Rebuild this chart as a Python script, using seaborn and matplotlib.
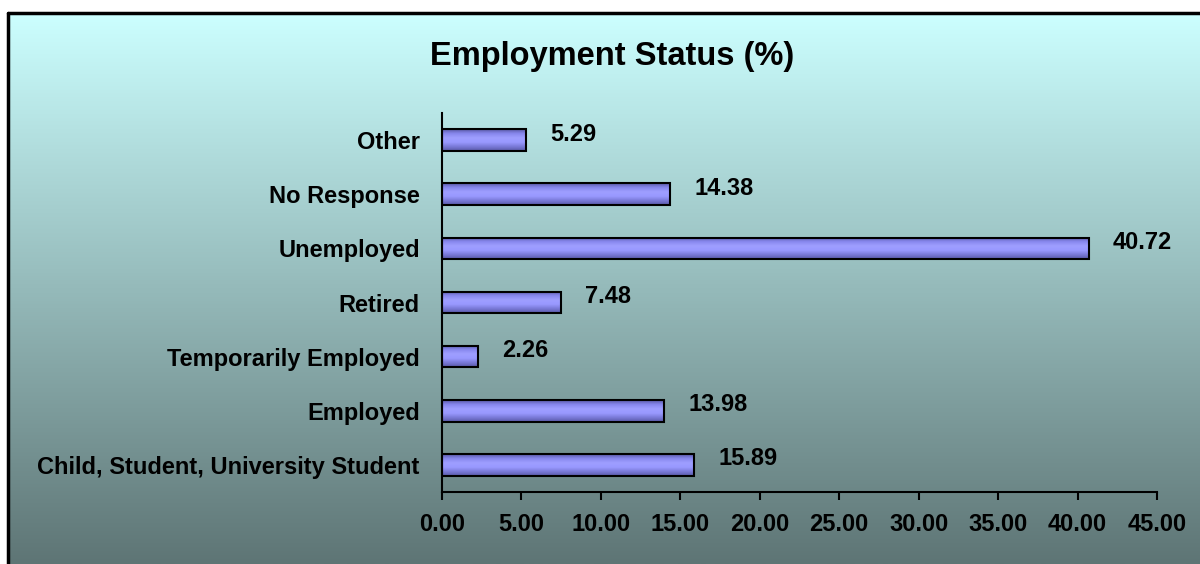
import matplotlib
matplotlib.use("Agg")
import matplotlib.pyplot as plt
from matplotlib.colors import LinearSegmentedColormap
from matplotlib.lines import Line2D
import numpy as np
import seaborn as sb

sb.set_theme(style="white")
plt.rcParams['font.family'] = ['Liberation Sans', 'DejaVu Sans']

# data
categories = ["Other", "No Response", "Unemployed", "Retired",
              "Temporarily Employed", "Employed",
              "Child, Student, University Student"]
values = [5.29, 14.38, 40.72, 7.48, 2.26, 13.98, 15.89]
x_ticks = np.arange(0, 50, 5)
title = "Employment Status (%)"

fig = plt.figure(figsize=(12, 5.64), dpi=100, facecolor="white")

# background panel with vertical gradient
bg = fig.add_axes([8 / 1200, 0, 1 - 8 / 1200, 1 - 13 / 564])
bg_cmap = LinearSegmentedColormap.from_list("bg", ["#5e7575", "#ccffff"])
bg.imshow(np.linspace(0, 1, 256).reshape(-1, 1)[::-1], aspect="auto",
          cmap=bg_cmap, extent=[0, 1, 0, 1])
bg.set_axis_off()
fig.add_artist(Line2D([8 / 1200, 8 / 1200], [0, 1 - 13 / 564], color="black", lw=2.5))
fig.add_artist(Line2D([8 / 1200, 1], [1 - 13 / 564, 1 - 13 / 564], color="black", lw=2.5))

ax = fig.add_axes([442 / 1200, 1 - 492 / 564, (1157 - 442) / 1200, (492 - 113) / 564])
ax.patch.set_alpha(0)

sb.barplot(x=values, y=categories, orient="h", width=0.4, color="#9999ff",
           edgecolor="black", linewidth=1.5, ax=ax)

# shaded fill for each bar, clipped to the bar outline
bar_cmap = LinearSegmentedColormap.from_list(
    "bar", ["#5a5aa8", "#8888ee", "#9e9eff", "#9999ff", "#7a7ad8", "#5a5aa8"])
grad = np.linspace(0, 1, 64).reshape(-1, 1)
for patch in list(ax.patches):
    bb = patch.get_bbox()
    im = ax.imshow(grad, extent=[bb.x0, bb.x1, bb.y1, bb.y0], aspect="auto",
                   cmap=bar_cmap, zorder=patch.get_zorder() - 0.1)
    im.set_clip_path(patch)
    patch.set_facecolor("none")

for patch, v in zip(ax.patches, values):
    bb = patch.get_bbox()
    ax.annotate(f"{v:.2f}", xy=(bb.x1, (bb.y0 + bb.y1) / 2), xytext=(24, 6),
                textcoords="offset pixels", ha="left", va="center",
                fontsize=17, fontweight="bold", color="black")

ax.set_xlim(0, 45)
ax.set_ylim(6.5, -0.5)
ax.set_xticks(x_ticks)
ax.set_xticklabels([f"{t:.2f}" for t in x_ticks])
ax.tick_params(axis="x", direction="out", length=6, width=1.5, color="black",
               bottom=True, pad=9, labelsize=17)
ax.tick_params(axis="y", length=0, pad=16, labelsize=17)
for lbl in ax.get_xticklabels() + ax.get_yticklabels():
    lbl.set_fontweight("bold")
    lbl.set_color("black")
    if lbl in ax.get_yticklabels():
        pass
ax.set_xlabel("")
ax.set_ylabel("")
for side in ["top", "right"]:
    ax.spines[side].set_visible(False)
for side in ["left", "bottom"]:
    ax.spines[side].set_color("black")
    ax.spines[side].set_linewidth(1.5)

fig.text(612 / 1200, 1 - 57 / 564, title, ha="center", va="center",
         fontsize=23.5, fontweight="bold", color="black")

fig.savefig("out.png", dpi=100)
